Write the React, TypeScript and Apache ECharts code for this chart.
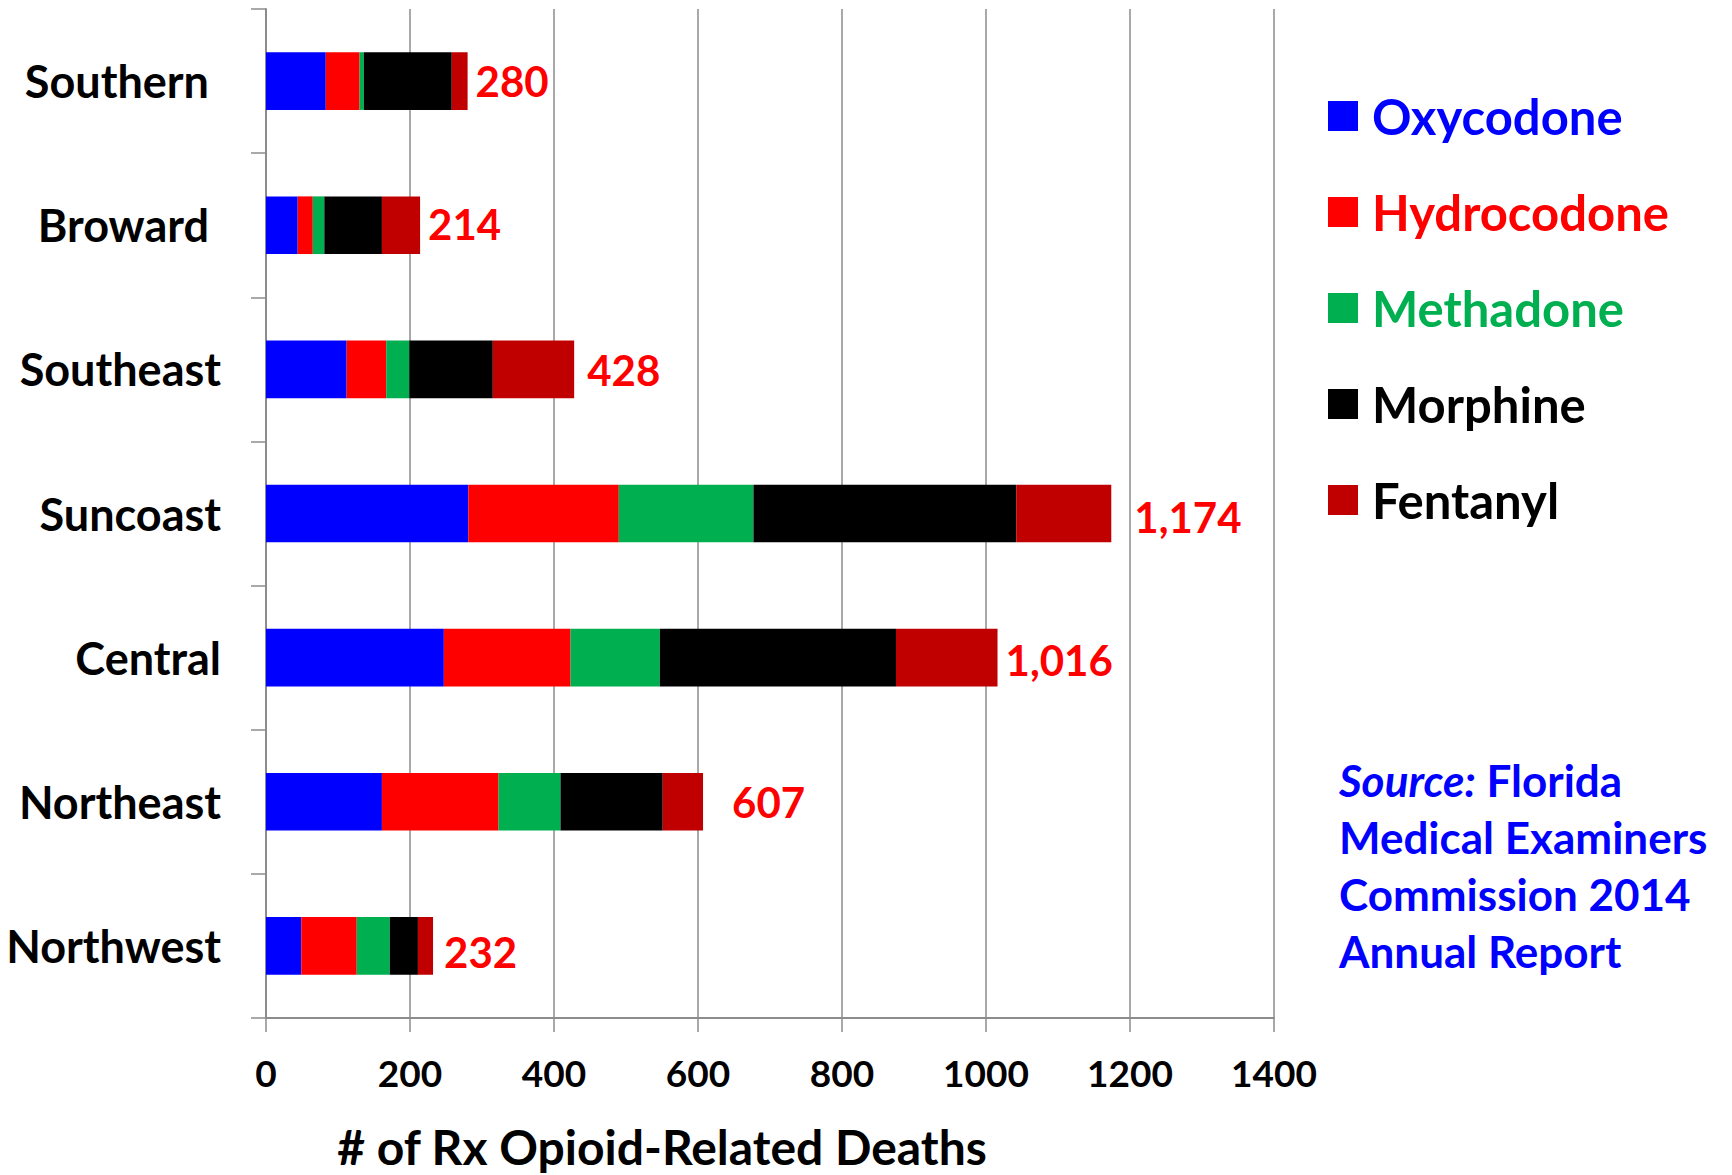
import React, { useEffect, useRef } from "react";
import * as echarts from "echarts";

const regions = ["Southern", "Broward", "Southeast", "Suncoast", "Central", "Northeast", "Northwest"];
const oxycodone = [83, 44, 112, 281, 247, 161, 49];
const hydrocodone = [47, 21, 55, 209, 176, 162, 77];
const methadone = [6, 16, 32, 187, 124, 86, 46];
const morphine = [122, 80, 116, 365, 328, 142, 39];
const fentanyl = [22, 53, 113, 132, 141, 56, 21];
const xTicks = { min: 0, max: 1400, interval: 200 };
const labelOffsets: [number, number][] = [[8, 0], [8, -1], [13, 1], [23, 3], [8, 2], [29, 0], [11, 6]];
const regionLabelPad = [12, 12, 0, 0, 0, 0, 0];

const FONT = "Lato";
const names = ["Oxycodone", "Hydrocodone", "Methadone", "Morphine", "Fentanyl"];
const colors = ["#0000FF", "#FF0000", "#00B050", "#000000", "#C00000"];
const legendTextColors = ["#0000FF", "#FF0000", "#00B050", "#000000", "#000000"];

export default function App() {
  const ref = useRef<HTMLDivElement>(null);
  useEffect(() => {
    if (!ref.current) return;
    const chart = echarts.init(ref.current, null, { renderer: "svg" });
    const seriesData = [oxycodone, hydrocodone, methadone, morphine, fentanyl];
    const totals = regions.map((_, i) => seriesData.reduce((s, arr) => s + arr[i], 0));
    const series: any[] = seriesData.map((arr, si) => ({
      name: names[si],
      type: "bar",
      stack: "total",
      barCategoryGap: "60%",
      itemStyle: { color: colors[si] },
      data:
        si === 4
          ? arr.map((v, i) => ({ value: v, label: { offset: labelOffsets[i] } }))
          : arr,
      label:
        si === 4
          ? {
              show: true,
              position: "right",
              distance: 0,
              color: "#FF0000",
              fontFamily: FONT,
              fontWeight: "bold",
              fontSize: 42,
              formatter: (p: any) => totals[p.dataIndex].toLocaleString("en-US"),
            }
          : { show: false },
    }));
    const labelStyle = {
      color: "#000",
      fontFamily: FONT,
      fontWeight: "bold",
      fontSize: 45,
    };
    chart.setOption({
      animation: false,
      textStyle: { fontFamily: FONT },
      grid: { left: 266, right: 458, top: 9, bottom: 157, containLabel: false },
      legend: {
        orient: "vertical",
        left: 1323,
        top: 86,
        itemWidth: 30,
        itemHeight: 30,
        itemGap: 46,
        icon: "rect",
        selectedMode: false,
        data: names.map((n, i) => ({
          name: n,
          textStyle: { color: legendTextColors[i] },
        })),
        textStyle: {
          fontFamily: FONT,
          fontWeight: "bold",
          fontSize: 49,
          lineHeight: 50,
          padding: [0, 0, 0, 9],
        },
      },
      xAxis: {
        type: "value",
        min: xTicks.min,
        max: xTicks.max,
        interval: xTicks.interval,
        axisLine: { show: true, lineStyle: { color: "#8C8C8C", width: 2 } },
        axisTick: { show: true, length: 14, lineStyle: { color: "#8C8C8C", width: 1.5 } },
        splitLine: { show: true, lineStyle: { color: "#8C8C8C", width: 1.5 } },
        axisLabel: {
          color: "#000",
          fontFamily: FONT,
          fontWeight: "bold",
          fontSize: 37,
          margin: 36,
          formatter: (v: number) => String(v),
        },
      },
      yAxis: {
        type: "category",
        inverse: true,
        data: regions,
        axisLine: { show: true, lineStyle: { color: "#8C8C8C", width: 2 } },
        axisTick: { show: true, length: 15, lineStyle: { color: "#8C8C8C", width: 1.5 } },
        splitLine: { show: false },
        axisLabel: {
          ...labelStyle,
          margin: 45,
          formatter: (v: string, i: number) => (regionLabelPad[i] ? `{p|${v}}` : `{n|${v}}`),
          rich: {
            p: { ...labelStyle, padding: [0, 12, 0, 0] },
            n: { ...labelStyle },
          },
        },
      },
      graphic: [
        {
          type: "text",
          x: 662,
          y: 1146,
          style: {
            text: "# of Rx Opioid-Related Deaths",
            fill: "#000",
            font: `bold 48px ${FONT}`,
            lineHeight: 48,
            textAlign: "center",
            textVerticalAlign: "middle",
          },
        },
        {
          type: "text",
          x: 1339,
          y: 751,
          style: {
            text: "{i|Source:} Florida\nMedical Examiners\nCommission 2014\nAnnual Report",
            fill: "#0000FF",
            font: `bold 44px ${FONT}`,
            lineHeight: 57,
            textAlign: "left",
            textVerticalAlign: "top",
            rich: {
              i: {
                fontStyle: "italic",
                fontWeight: "bold",
                fontSize: 44,
                fontFamily: FONT,
                fill: "#0000FF",
                lineHeight: 57,
              },
            },
          },
        },
      ],
      series,
    });
    return () => chart.dispose();
  }, []);
  return (
    <div
      ref={ref}
      style={{ position: "fixed", left: 0, top: 0, width: 1732, height: 1175, background: "#fff" }}
    />
  );
}
